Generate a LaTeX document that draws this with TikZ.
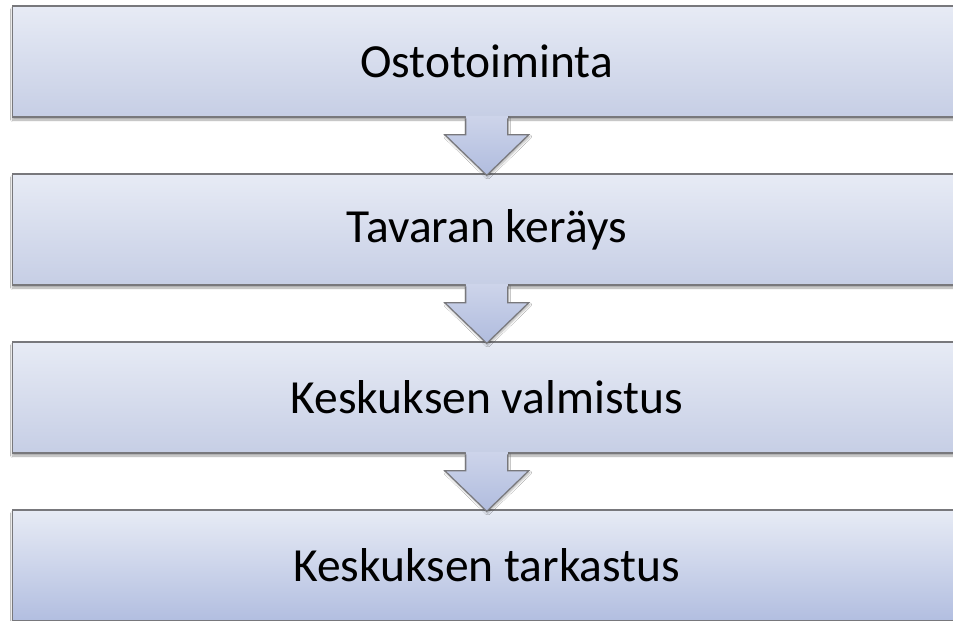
\documentclass[tikz,border=0pt]{standalone}
\usepackage{fontspec}
\setmainfont{Carlito}
\usetikzlibrary{shadows.blur}

\definecolor{boxtop}{RGB}{231,235,245}
\definecolor{boxbot}{RGB}{198,206,229}
\definecolor{lastbot}{RGB}{178,190,224}
\definecolor{edgegray}{RGB}{120,120,124}
\definecolor{arrtop}{RGB}{205,212,234}
\definecolor{arrbot}{RGB}{176,188,222}

\tikzset{
  stepbox/.style={
    rectangle, draw=edgegray, line width=1.4pt,
    top color=boxtop, bottom color=boxbot,
    minimum width=948.5pt, minimum height=111pt, inner sep=0pt,
    font=\fontsize{47.5}{54}\selectfont, text=black,
    blur shadow={shadow xshift=0pt, shadow yshift=-3pt,
                 shadow blur steps=6, shadow opacity=35}},
  flowfill/.style={top color=arrtop, bottom color=arrbot,
    blur shadow={shadow xshift=1pt, shadow yshift=-2pt,
                 shadow blur steps=5, shadow opacity=30}},
  flowedge/.style={draw=edgegray, line width=1.2pt, line join=miter},
}

\begin{document}
\begin{tikzpicture}[x=1pt, y=-1pt]
  \useasboundingbox (0,0) rectangle (953,621);
  \clip (0,0) rectangle (953,621);
  \fill[white] (0,0) rectangle (953,621);

  \node[stepbox] (s1) at (486.75, 61.5)  {Ostotoiminta};
  \node[stepbox] (s2) at (486.75, 229.5) {Tavaran keräys};
  \node[stepbox] (s3) at (486.75, 397.5) {Keskuksen valmistus};
  \node[stepbox, bottom color=lastbot] (s4) at (486.75, 565.5) {Keskuksen tarkastus};

  % downward block arrows between the steps
  \foreach \a/\b in {s1/s2, s2/s3, s3/s4}{
    \path[flowfill]
      ([xshift=-21pt, yshift=1.5pt]\a.south) -- ([xshift=-21pt, yshift=-17pt]\a.south)
      -- ([xshift=-42pt, yshift=-17pt]\a.south) -- ([yshift=-2pt]\b.north)
      -- ([xshift=42pt, yshift=-17pt]\a.south) -- ([xshift=21pt, yshift=-17pt]\a.south)
      -- ([xshift=21pt, yshift=1.5pt]\a.south) -- cycle;
    \draw[flowedge]
      ([xshift=-21pt, yshift=-0.7pt]\a.south) -- ([xshift=-21pt, yshift=-17pt]\a.south)
      -- ([xshift=-42pt, yshift=-17pt]\a.south) -- ([yshift=-2pt]\b.north)
      -- ([xshift=42pt, yshift=-17pt]\a.south) -- ([xshift=21pt, yshift=-17pt]\a.south)
      -- ([xshift=21pt, yshift=-0.7pt]\a.south);
  }
\end{tikzpicture}
\end{document}
